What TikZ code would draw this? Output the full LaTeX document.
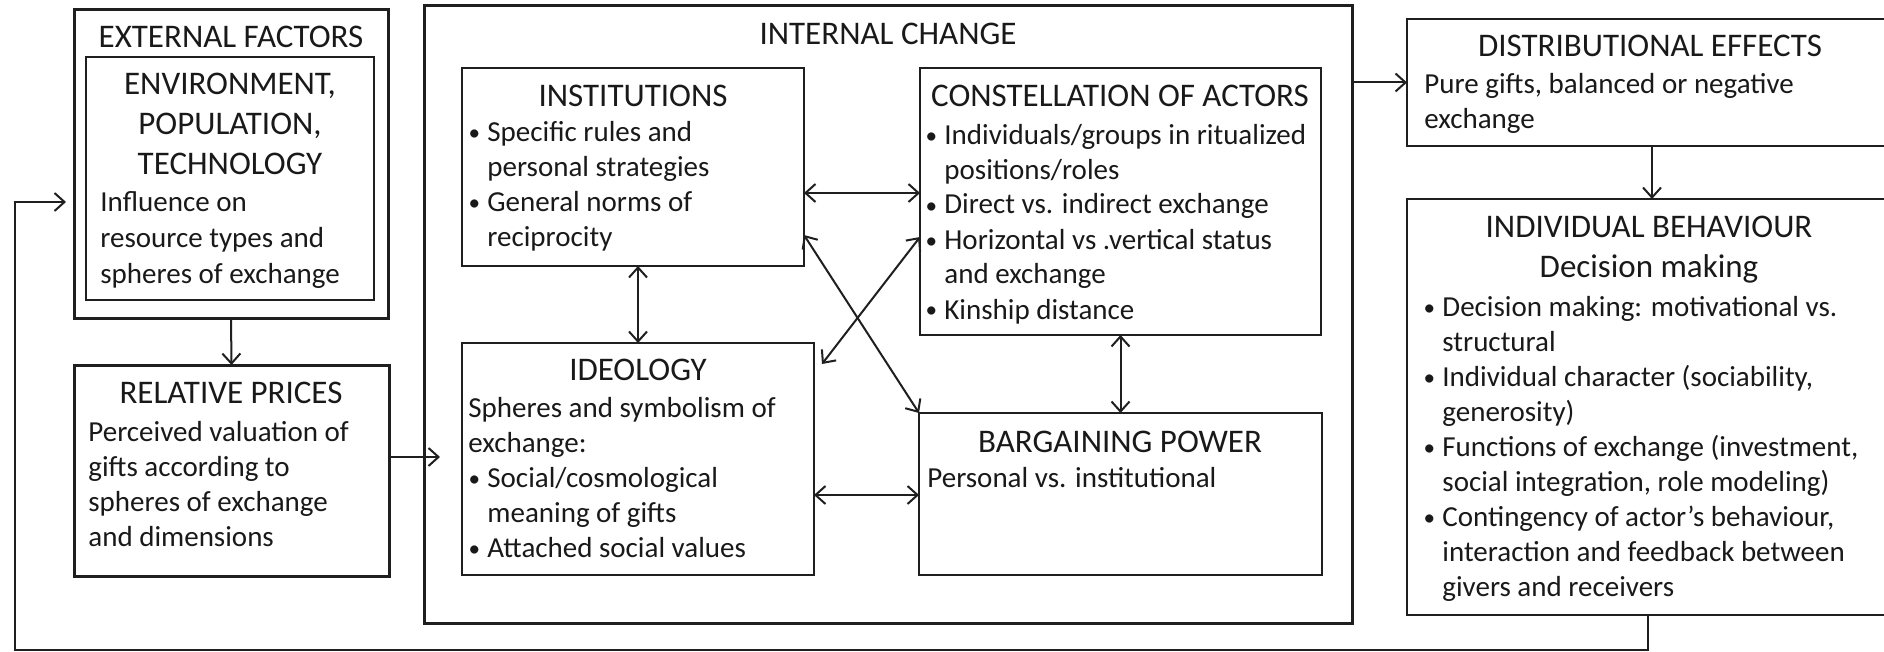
\documentclass[tikz,border=0pt]{standalone}
\usepackage{fontspec}
\setmainfont{Carlito}
\usetikzlibrary{arrows.meta,calc}
\newcommand\mybul{\makebox[13pt][c]{\raisebox{0.5pt}{\scalebox{0.8}{•}}}}
\newcommand\myind{\hspace*{13pt}}
\newcommand\hdfont{\fontsize{16.5}{20}\selectfont}
\newcommand\bdfont{\fontsize{14.5}{17.5}\selectfont}
\begin{document}
\begin{tikzpicture}[x=0.5pt,y=-0.5pt,
  box/.style={draw=black!88,line width=1pt,inner sep=0,outer sep=0,anchor=north west},
  tbox/.style={box,line width=1.5pt},
  hd/.style={font=\hdfont,inner sep=0,anchor=base,align=center,text=black!90},
  bd/.style={font=\bdfont,inner sep=0,anchor=base west,align=left,text=black!90},
  arr/.style={draw=black!88,line width=1pt,-{Straight Barb[length=5pt,width=9pt]}},
  arr2/.style={draw=black!88,line width=1pt,{Straight Barb[length=5pt,width=9pt]}-{Straight Barb[length=5pt,width=9pt]}}]
\fill[white] (0,0) rectangle (1884,652);
\useasboundingbox (0,0) rectangle (1884,652);
\clip (0,0) rectangle (1884,652);
% boxes
\node[tbox,minimum width=157pt,minimum height=154pt] (extO) at (74,10) {};
\node[box,minimum width=144pt,minimum height=121.5pt] (extI) at (86,57) {};
\node[tbox,minimum width=157.5pt,minimum height=105.5pt] (rel) at (74,365) {};
\node[tbox,minimum width=464pt,minimum height=308.5pt] (intl) at (424,6) {};
\node[box,minimum width=171pt,minimum height=99pt] (inst) at (462,68) {};
\node[box,minimum width=200.5pt,minimum height=133.5pt] (cons) at (920,68) {};
\node[box,minimum width=176pt,minimum height=116pt] (ideo) at (462,343) {};
\node[box,minimum width=201.5pt,minimum height=81pt] (barg) at (919,413) {};
\node[box,minimum width=260pt,minimum height=63.5pt] (dist) at (1407,19) {};
\node[box,minimum width=260pt,minimum height=208pt] (indiv) at (1407,199) {};
% texts (multi-line nodes are placed by the baseline of their last line)
\node[hd] (extH) at (231,48) {EXTERNAL FACTORS};
\node[hd] (envH) at (230,175) {ENVIRONMENT,\\POPULATION,\\TECHNOLOGY};
\node[bd,font=\fontsize{14.5}{18}\selectfont] (envT) at (100,284) {Influence on\\resource types and\\spheres of exchange};
\node[hd] (relH) at (231,403) {RELATIVE PRICES};
\node[bd] (relT) at (88,546) {Perceived valuation of\\gifts according to\\spheres of exchange\\and dimensions};
\node[hd] (intH) at (888,45) {INTERNAL CHANGE};
\node[hd] (instH) at (633,107) {INSTITUTIONS};
\node[bd] (instT) at (461,247) {\mybul Specific rules and\\\myind personal strategies\\\mybul General norms of\\\myind reciprocity};
\node[hd] (consH) at (1120,107) {CONSTELLATION OF ACTORS};
\node[bd] (consT) at (918,319) {\mybul Individuals/groups in ritualized\\\myind positions/roles\\\mybul Direct vs. indirect exchange\\\mybul Horizontal vs .vertical status\\\myind and exchange\\\mybul Kinship distance};
\node[hd] (ideoH) at (638,380) {IDEOLOGY};
\node[bd] (ideoT) at (461,557) {\hspace*{3.5pt}Spheres and symbolism of\\\hspace*{3.5pt}exchange:\\\mybul Social/cosmological\\\myind meaning of gifts\\\mybul Attached social values};
\node[hd] (bargH) at (1120,452) {BARGAINING POWER};
\node[bd] (bargT) at (927,487) {Personal vs. institutional};
\node[hd] (distH) at (1650,57) {DISTRIBUTIONAL EFFECTS};
\node[bd] (distT) at (1424,129) {Pure gifts, balanced or negative\\exchange};
\node[hd] (indH) at (1649,278) {INDIVIDUAL BEHAVIOUR\\Decision making};
\node[bd] (indT) at (1416,596) {\mybul Decision making: motivational vs.\\\myind structural\\\mybul Individual character (sociability,\\\myind generosity)\\\mybul Functions of exchange (investment,\\\myind social integration, role modeling)\\\mybul Contingency of actor’s behaviour,\\\myind interaction and feedback between\\\myind givers and receivers};
% helper coordinates
\coordinate (relTip) at (440,457);
\coordinate (y193) at (0,193);
\coordinate (y495) at (0,495);
\coordinate (y235) at (0,235);
\coordinate (y237) at (0,237);
\coordinate (x1652) at (1652,0);
\coordinate (x1648) at (1648,0);
\coordinate (ideoTip) at ($(ideo.north east)+(8,21)$);
\coordinate (fbL) at (15,650);
\coordinate (fbT) at (66,202);
% connectors
\draw[arr] (extO.south) -- (rel.north);
\draw[arr] (relTip -| rel.east) -- (relTip);
\draw[arr] (intl.east |- dist.west) -- (dist.west);
\draw[arr] (dist.south -| x1652) -- (indiv.north -| x1652);
\draw[arr] (indiv.south -| x1648) |- (fbL) |- (fbT);
\draw[arr2] (inst.east |- y193) -- (cons.west |- y193);
\draw[arr2] (inst.south -| ideo.north) -- (ideo.north);
\draw[arr2] (cons.south) -- (barg.north);
\draw[arr2] (ideo.east |- y495) -- (barg.west |- y495);
\draw[arr2] (inst.east |- y235) -- (barg.north west);
\draw[arr2] (cons.west |- y237) -- (ideoTip);
\end{tikzpicture}
\end{document}
